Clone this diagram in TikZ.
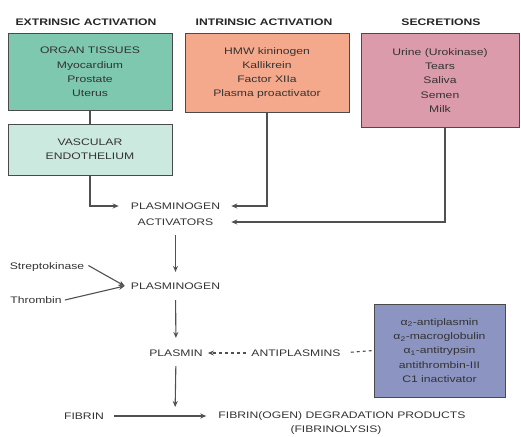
\documentclass[tikz,border=0pt]{standalone}
\usepackage{fontspec}
\setmainfont[FakeStretch=1.28]{Liberation Sans}
\usetikzlibrary{arrows.meta,calc}
\definecolor{orgc}{HTML}{7DC8AE}
\definecolor{vasc}{HTML}{CBE9DE}
\definecolor{intc}{HTML}{F5A98C}
\definecolor{secc}{HTML}{DC9BAA}
\definecolor{antc}{HTML}{8C94C2}
\definecolor{bordc}{HTML}{4A4A4A}
\definecolor{linec}{HTML}{505050}
\definecolor{txt}{HTML}{333333}
\begin{document}
\begin{tikzpicture}[x=1pt,y=-1pt,
  every node/.style={font=\fontsize{9.5}{14.3}\selectfont, text=txt},
  box/.style={draw=bordc, line width=1pt, align=center, inner sep=0pt},
  ttl/.style={font=\fontsize{9.5}{12}\selectfont\bfseries, text=black!85, inner sep=0pt},
  lbl/.style={inner sep=0pt, align=center},
  conn/.style={draw=linec, line width=1.1pt},
  arr/.style={conn, -{Stealth[length=6pt,width=5pt]}},
  dashedarr/.style={conn, dash pattern=on 3pt off 3pt}
]
\useasboundingbox (0,0) rectangle (521,436);

% titles
\node[ttl] (t1) at (86,22) {EXTRINSIC ACTIVATION};
\node[ttl] (t2) at (264,22) {INTRINSIC ACTIVATION};
\node[ttl] (t3) at (441,22) {SECRETIONS};

% boxes
\node[box, fill=orgc, minimum width=164pt, minimum height=76pt] (organ) at (90,72)
  {ORGAN TISSUES\\Myocardium\\Prostate\\Uterus};
\node[box, fill=vasc, minimum width=164pt, minimum height=51pt] (vascb) at (90,149.5)
  {VASCULAR\\ENDOTHELIUM};
\node[box, fill=intc, minimum width=164pt, minimum height=78pt] (intr) at (267,73)
  {HMW kininogen\\Kallikrein\\Factor XIIa\\Plasma proactivator};
\node[box, fill=secc, minimum width=158pt, minimum height=93pt] (secr) at (440,80.5)
  {Urine (Urokinase)\\Tears\\Saliva\\Semen\\Milk};
\node[box, fill=antc, minimum width=131pt, minimum height=93pt] (antib) at (439.5,350.5)
  {α\textsubscript{2}-antiplasmin\\α\textsubscript{2}-macroglobulin\\α\textsubscript{1}-antitrypsin\\antithrombin-III\\C1 inactivator};

% text nodes
\node[lbl, font=\fontsize{9.5}{16}\selectfont] (pa) at (175.5,214) {PLASMINOGEN\\ACTIVATORS};
\node[lbl] (plg) at (175.5,286) {PLASMINOGEN};
\node[lbl] (strep) at (47,267) {Streptokinase};
\node[lbl] (thromb) at (36,300) {Thrombin};
\node[lbl] (plasmin) at (176,353) {PLASMIN};
\node[lbl] (antip) at (296,353) {ANTIPLASMINS};
\node[lbl] (fibrin) at (84,416) {FIBRIN};
\node[lbl] (fdp) at (342,416) {FIBRIN(OGEN) DEGRADATION PRODUCTS};
\node[lbl] (fibl) at (336,430) {(FIBRINOLYSIS)};

% connectors
\draw[conn] (organ.south) -- (vascb.north);
\draw[arr, shorten >=12pt] (vascb.south) |- ([yshift=8pt]pa.west);
\draw[arr, shorten >=11pt] (intr.south) |- ([yshift=8pt]pa.east);
\draw[arr, shorten >=11pt] ([xshift=5pt]secr.south) |- ([yshift=-8pt]pa.east);

\draw[arr, shorten <=9.5pt, shorten >=10.5pt] (pa.south) -- (plg.north);
\coordinate (conv) at ($(plg.west)+(-6,0)$);
\draw[arr] ([xshift=4pt,yshift=1.5pt]strep.east) -- (conv);
\draw[arr] ([xshift=3pt]thromb.east) -- (conv);

\draw[arr, shorten <=10.5pt, shorten >=11.5pt] (plg.south) -- (plasmin.north);
\draw[dashedarr, -{Stealth[length=6pt,width=5pt]}, shorten <=5pt, shorten >=5pt] (antip.west) -- (plasmin.east);
\draw[dashedarr, shorten <=10pt] (antip.east) -- (antib.west);

\coordinate (mid) at (175,416);
\draw[arr, shorten <=9.5pt, shorten >=9pt] (plasmin.south) -- (mid);
\draw[arr, shorten <=10pt, shorten >=12pt] (fibrin.east) -- (fdp.west);
\end{tikzpicture}
\end{document}
